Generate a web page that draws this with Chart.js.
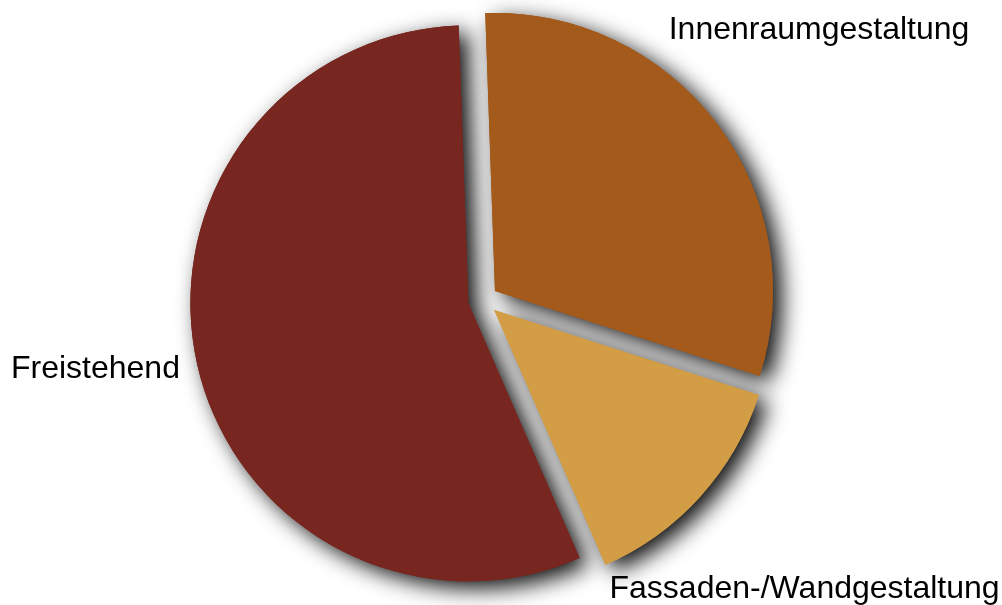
<!DOCTYPE html>
<html>
<head>
<meta charset="utf-8">
<script src="https://cdn.jsdelivr.net/npm/chart.js@4/dist/chart.umd.min.js"></script>
<style>
  html, body { margin: 0; padding: 0; background: #fff; }
  #wrap { width: 1002px; height: 605px; position: relative; }
</style>
</head>
<body>
<div id="wrap"><canvas id="pie"></canvas></div>
<script>
// clockwise from the top
var categories = ['Innenraumgestaltung', 'Fassaden-/Wandgestaltung', 'Freistehend'];
var shares = [30.5, 13.5, 56];
var sliceColors = ['#A35A1B', '#D39D46', '#772720'];

var SLICE_GAP = 15;

// pull every slice out along its bisector, without growing its radius
var arcDraw = Chart.ArcElement.prototype.draw;
Chart.ArcElement.prototype.draw = function (ctx) {
    var mid = (this.startAngle + this.endAngle) / 2;
    ctx.save();
    ctx.translate(Math.cos(mid) * SLICE_GAP, Math.sin(mid) * SLICE_GAP);
    arcDraw.call(this, ctx);
    ctx.restore();
};

// soft drop shadow under all slices, painted before the slices themselves
var shadowPlugin = {
    id: 'sliceShadow',
    beforeDatasetsDraw: function (chart) {
        var ctx = chart.ctx;
        ctx.save();
        ctx.shadowColor = 'rgba(0,0,0,0.95)';
        ctx.shadowBlur = 22;
        ctx.shadowOffsetX = 9;
        ctx.shadowOffsetY = 7;
        chart.getDatasetMeta(0).data.forEach(function (arc) { arc.draw(ctx); });
        ctx.restore();
    }
};

// slice names placed around the pie
var labelPlugin = {
    id: 'sliceLabels',
    afterDatasetsDraw: function (chart) {
        var ctx = chart.ctx;
        var arc = chart.getDatasetMeta(0).data[0];
        var cx = arc.x, cy = arc.y, r = arc.outerRadius;
        var spots = [
            [0.668, -0.94],
            [0.455, 1.073],
            [-1.698, 0.28]
        ];
        ctx.save();
        ctx.font = '32px "Liberation Sans", Arial, Helvetica, sans-serif';
        ctx.fillStyle = '#000';
        ctx.textAlign = 'left';
        ctx.textBaseline = 'alphabetic';
        categories.forEach(function (name, i) {
            ctx.fillText(name, cx + spots[i][0] * r, cy + spots[i][1] * r);
        });
        ctx.restore();
    }
};

var chart = new Chart(document.getElementById('pie'), {
    type: 'pie',
    data: {
        labels: categories,
        datasets: [{
            data: shares,
            backgroundColor: sliceColors,
            borderWidth: 0
        }]
    },
    options: {
        responsive: true,
        maintainAspectRatio: false,
        animation: false,
        rotation: -2,
        radius: 278,
        layout: { padding: { left: 0, right: 36, top: 0, bottom: 5 } },
        plugins: {
            legend: { display: false },
            tooltip: { enabled: false }
        }
    },
    plugins: [shadowPlugin, labelPlugin]
});
</script>
</body>
</html>
